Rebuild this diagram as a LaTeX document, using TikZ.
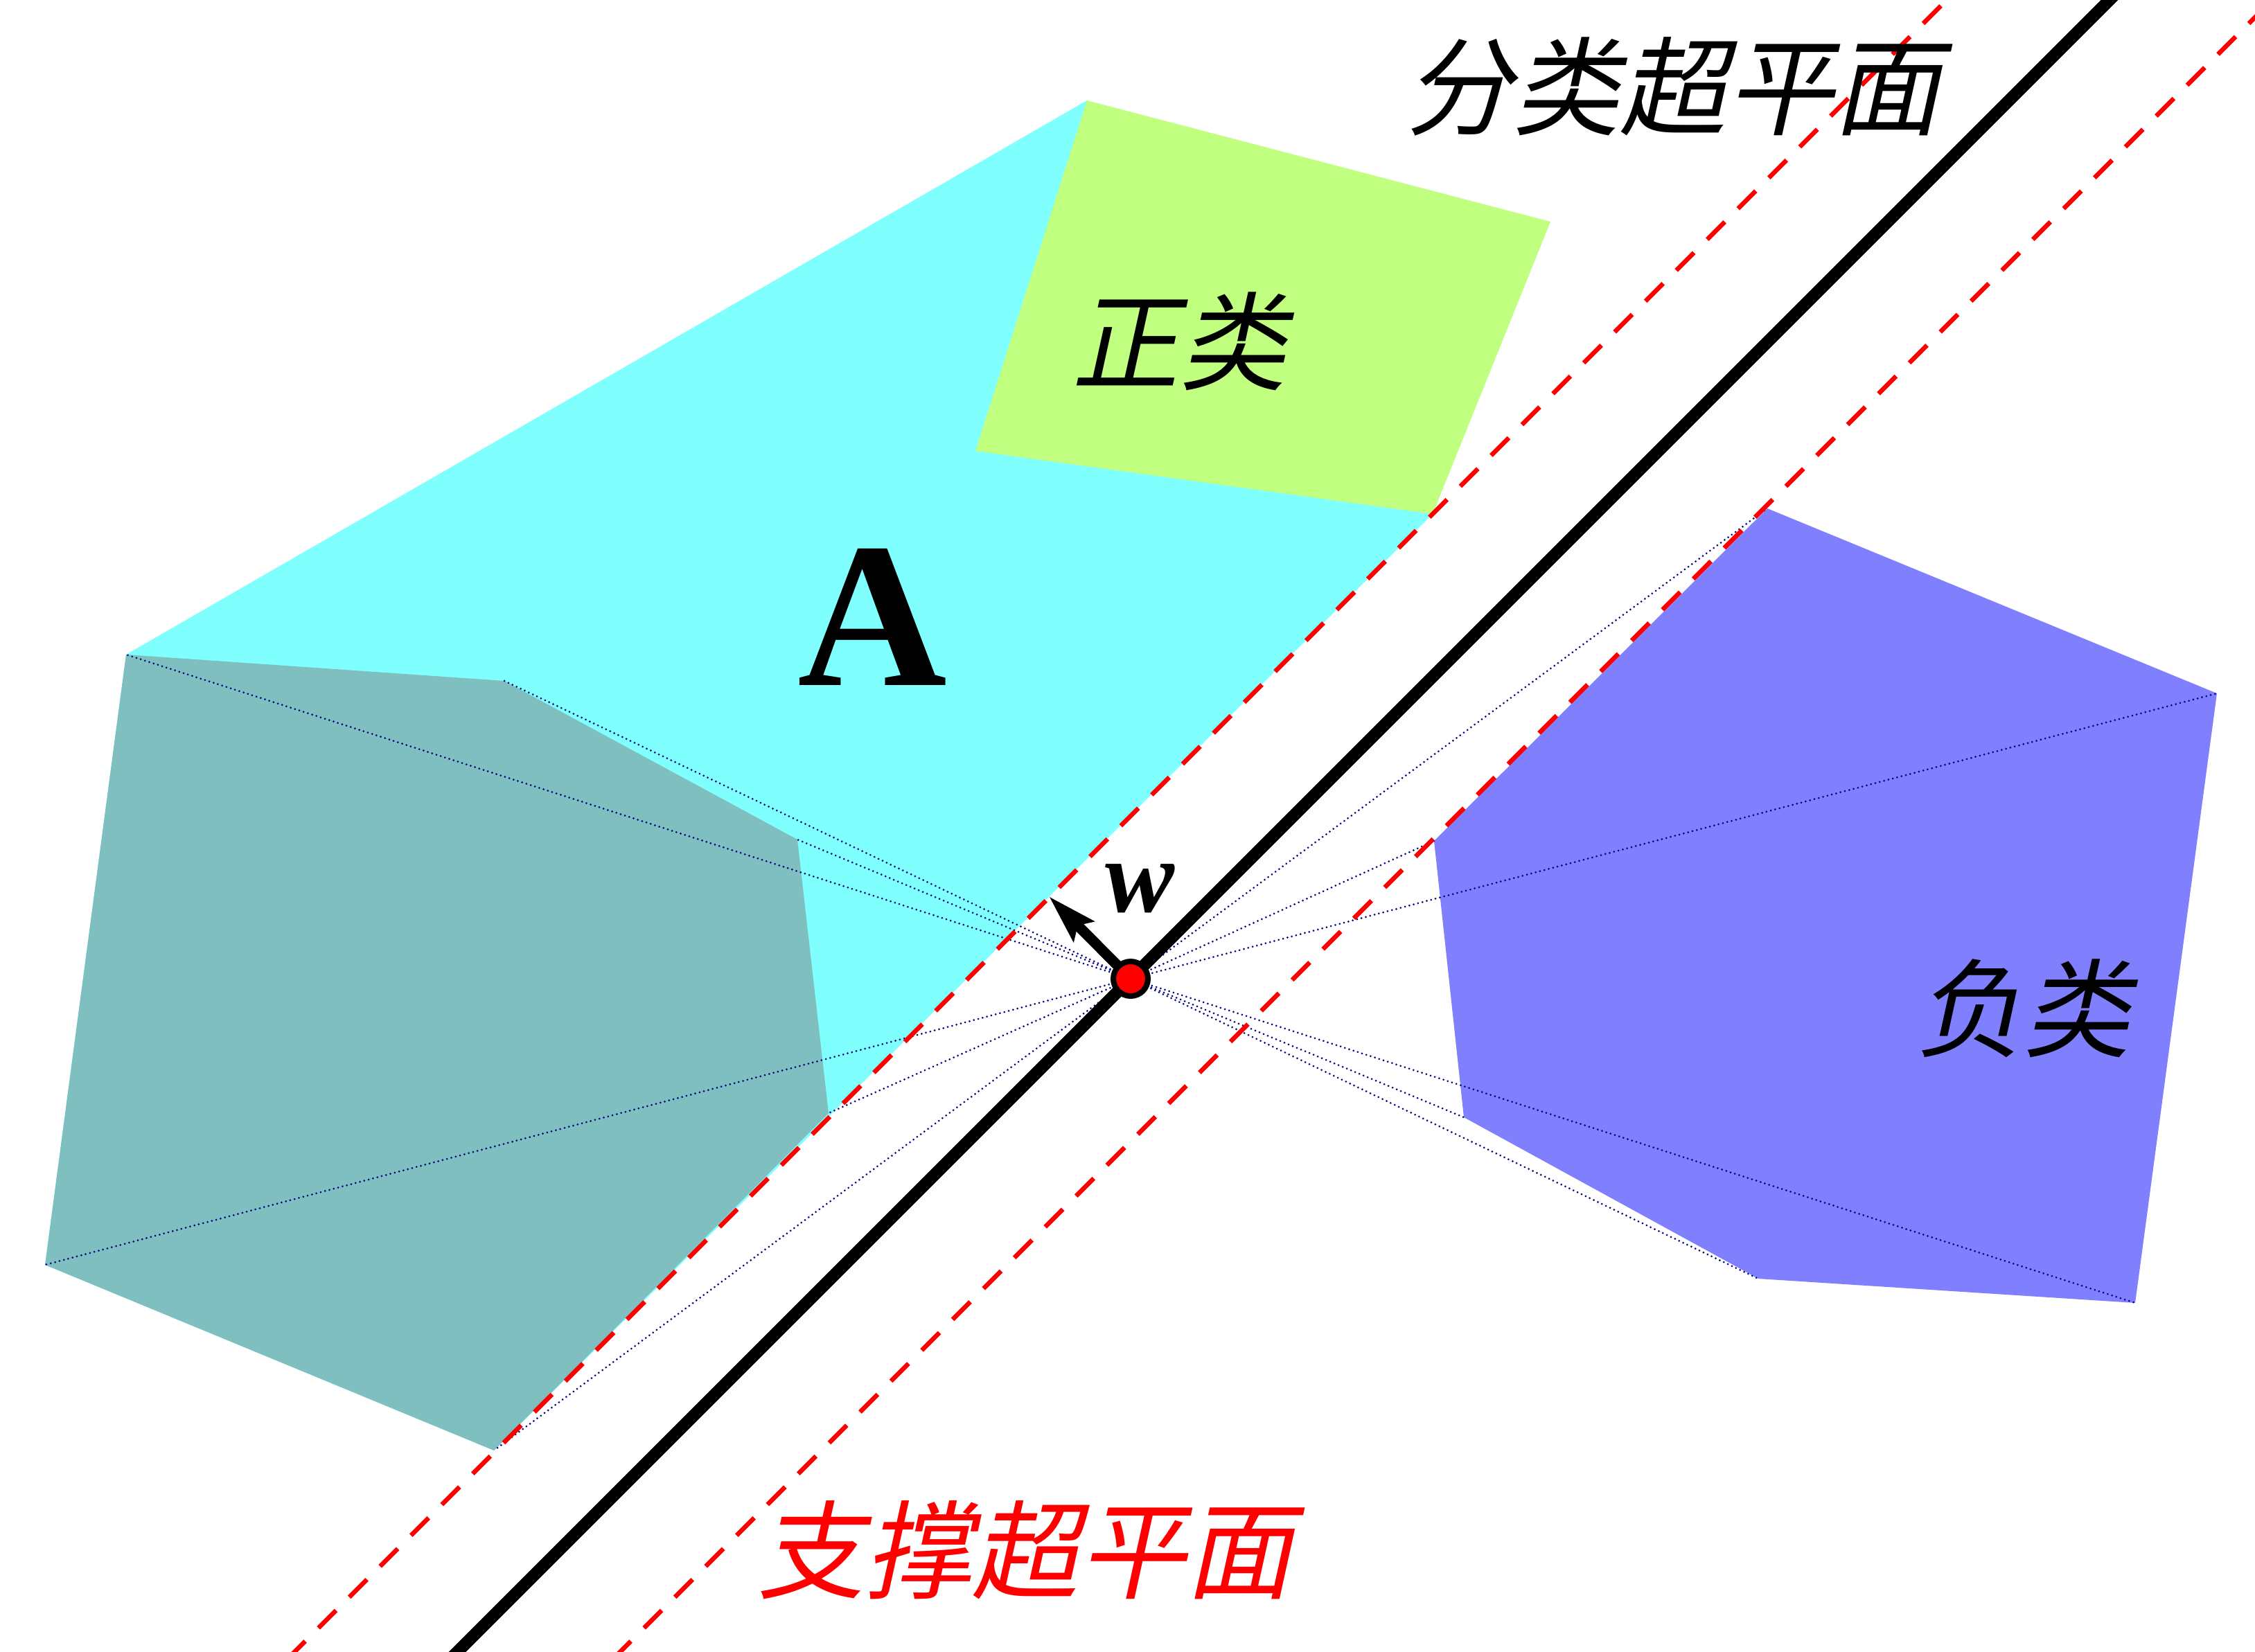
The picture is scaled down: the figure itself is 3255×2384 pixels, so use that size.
\documentclass[tikz,border=0pt]{standalone}
\usepackage{fontspec}
\newfontfamily\cjkfont[FakeSlant=0.22]{Noto Sans CJK SC}
\newfontfamily\romanfont{Liberation Serif}
\usetikzlibrary{arrows.meta,positioning}
\definecolor{hullcyan}{RGB}{128,255,255}
\definecolor{hullteal}{RGB}{128,191,191}
\definecolor{hullgreen}{RGB}{192,255,128}
\definecolor{hullblue}{RGB}{128,128,255}
\definecolor{raynavy}{RGB}{0,0,128}

\begin{document}
\begin{tikzpicture}[x=0.1mm, y=-0.1mm,
        support/.style={draw=red, line width=0.65mm, dash pattern=on 3.6mm off 2.7mm},
        separator/.style={draw=black, line width=1.75mm},
        ray/.style={draw=raynavy, line width=0.3mm, line cap=round, dash pattern=on 0pt off 0.65mm},
        cntext/.style={font=\cjkfont\fontsize{44}{52}\selectfont, inner sep=0pt},
        normal/.style={-{Stealth[length=7mm,width=4mm,inset=1.1mm]}, line width=1.5mm}
    ]
        \useasboundingbox (0,0) rectangle (3255,2384);
        \fill[white] (0,0) rectangle (3255,2384);
        \clip (0,0) rectangle (3255,2384);
        % Vertices of A
        \coordinate (a1) at (182,945);
        \coordinate (a2) at (728,983);
        \coordinate (a3) at (1151,1212);
        \coordinate (a4) at (1196,1607);
        \coordinate (a5) at (713,2094);
        \coordinate (a6) at (65,1826);
        % Vertices of the positive class
        \coordinate (p1) at (1569,145);
        \coordinate (p2) at (2238,320);
        \coordinate (p3) at (2068,742);
        \coordinate (p4) at (1408,651);
        % Vertices of the negative class
        \coordinate (n1) at (2551,734);
        \coordinate (n2) at (3200,1001);
        \coordinate (n3) at (3082,1881);
        \coordinate (n4) at (2538,1846);
        \coordinate (n5) at (2113,1613);
        \coordinate (n6) at (2070,1214);
        % Touching point and normal
        \coordinate (c) at (1632,1413);
        \coordinate (wtip) at (1514,1294);
        % Regions
        \fill[hullcyan] (a1) -- (p1) -- (p3) -- (a5) -- (a6) -- cycle;
        \fill[hullgreen] (p1) -- (p2) -- (p3) -- (p4) -- cycle;
        \fill[hullteal] (a1) -- (a2) -- (a3) -- (a4) -- (a5) -- (a6) -- cycle;
        \fill[hullblue] (n1) -- (n2) -- (n3) -- (n4) -- (n5) -- (n6) -- cycle;
        % Rays from the touching point
        \foreach \v in {a1,a2,a3,a4,a5,a6,n1,n2,n3,n4,n5,n6}
            \path[ray] (c) -- (\v);
        % Hyperplanes
        \path[support] (326,2484) -- (2910,-100);
        \path[support] (796,2484) -- (3380,-100);
        \path[separator] (561,2484) -- (3145,-100);
        % Normal vector
        \draw[normal] (c) -- (wtip);
        \node[circle, fill=red, draw=black, line width=0.8mm, minimum size=5mm, inner sep=0pt] (dot) at (c) {};
        % Labels
        \node[cntext] (sep) at (2415,125) {分类超平面};
        \node[cntext, text=red] (sup) at (1480,2238) {支撑超平面};
        \node[cntext] (pos) at (1702,493) {正类};
        \node[cntext] (neg) at (2920,1456) {负类};
        \node[font=\romanfont\bfseries\fontsize{85}{90}\selectfont, inner sep=0pt] (A) at (1259,891) {A};
        \node[font=\romanfont\bfseries\itshape\fontsize{42.7}{50}\selectfont, inner sep=0pt] (w) at (1646,1283) {w};
\end{tikzpicture}
\end{document}
